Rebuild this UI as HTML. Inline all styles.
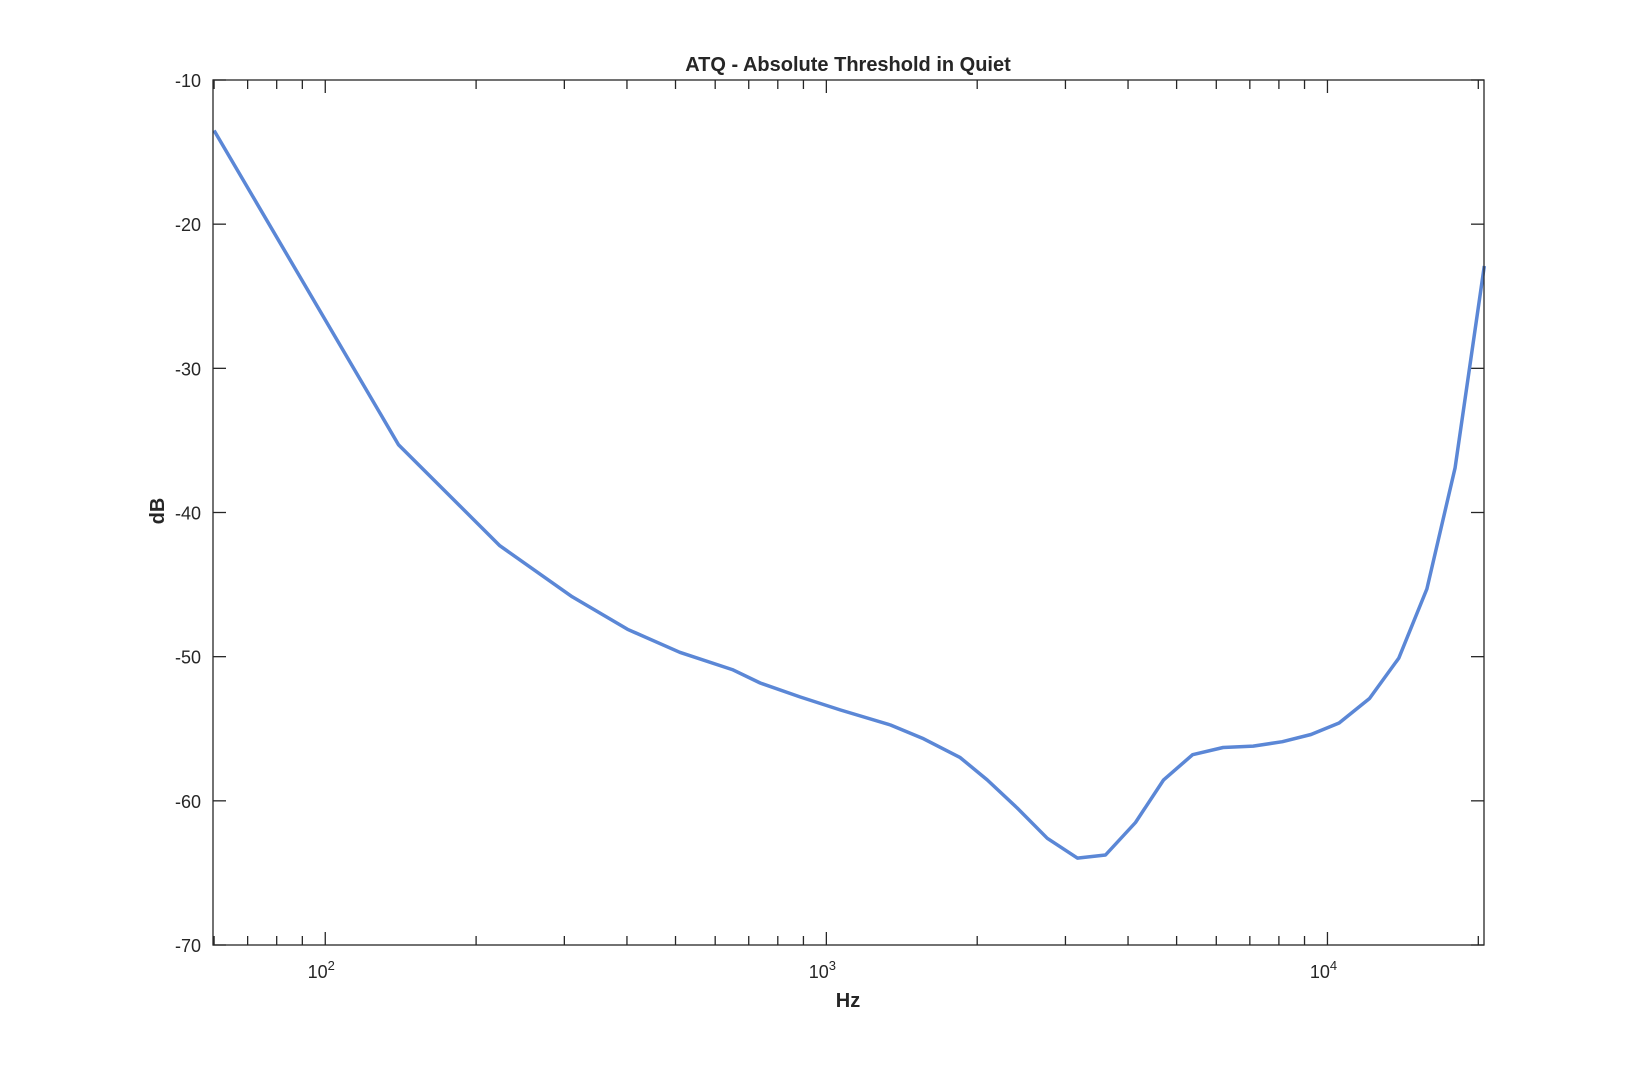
<!DOCTYPE html>
<html><head><meta charset="utf-8"><style>
html,body{margin:0;padding:0;background:#fff;}
svg text{font-family:"Liberation Sans",sans-serif;fill:#262626;}
</style></head><body>
<svg id="chart" width="1640" height="1062" viewBox="0 0 1640 1062" xmlns="http://www.w3.org/2000/svg">
<rect width="1640" height="1062" fill="#fff"/>
<text x="848" y="71" text-anchor="middle" font-size="20" font-weight="bold" fill="#000">ATQ - Absolute Threshold in Quiet</text>
<text x="848" y="1007" text-anchor="middle" font-size="20" font-weight="bold">Hz</text>
<text transform="translate(164,511) rotate(-90)" text-anchor="middle" font-size="20" font-weight="bold">dB</text>
<g id="axes"></g>
<g id="series"></g>
<rect x="213" y="80" width="1271" height="865" fill="none" stroke="#262626" stroke-width="1.3"/>
</svg>
<script>
const freqs = [60,140,223,311,401,510,649,738,887,1067,1343,1563,1850,2094,2403,2760,3170,3606,4140,4710,5380,6190,7110,8130,9270,10550,12130,13880,15790,17980,20560];
const dbValues = [-13.5,-35.3,-42.3,-45.85,-48.1,-49.7,-50.9,-51.83,-52.8,-53.7,-54.74,-55.7,-57.0,-58.55,-60.5,-62.6,-63.97,-63.76,-61.5,-58.55,-56.8,-56.3,-56.2,-55.9,-55.4,-54.6,-52.9,-50.1,-45.3,-36.9,-22.9];
const yTicks = [-70,-60,-50,-40,-30,-20,-10];
const xDecades = [2,3,4];

const L=213,R=1484,T=80,B=945;
const LOGMIN=Math.log10(59.7), LOGMAX=4.3124;
function xs(f){return L+(Math.log10(f)-LOGMIN)/(LOGMAX-LOGMIN)*(R-L);}
function ys(v){return B-(v-(-70))/60*(B-T);}
const NS="http://www.w3.org/2000/svg";
const axes=document.getElementById('axes');
function mk(tag,attrs,parent){const e=document.createElementNS(NS,tag);for(const k in attrs)e.setAttribute(k,attrs[k]);parent.appendChild(e);return e;}

yTicks.forEach(v=>{
  const y=ys(v);
  const t=mk('line',{x1:L,x2:L+13,y1:y,y2:y,stroke:'#262626','stroke-width':1.3},axes);
  
  
  const t2=mk('line',{x1:R-13,x2:R,y1:y,y2:y,stroke:'#262626','stroke-width':1.3},axes);
  
  
  const lb=mk('text',{x:L-12,y:y+7,'text-anchor':'end','font-size':18},axes);
  lb.textContent=v;
  
  
});
for(let d=1;d<=4;d++){
  for(let m=1;m<=9;m++){
    const f=m*Math.pow(10,d);
    const lf=Math.log10(f);
    if(lf<LOGMIN||lf>LOGMAX)continue;
    const x=xs(f);
    const len=(m===1)?13:9;
    const a=mk('line',{x1:x,x2:x,y1:B,y2:B-len,stroke:'#262626','stroke-width':1.3},axes);
    
    
    const b=mk('line',{x1:x,x2:x,y1:T,y2:T+len,stroke:'#262626','stroke-width':1.3},axes);
    
    
  }
}
xDecades.forEach(d=>{
  const x=xs(Math.pow(10,d));
  const lb=mk('text',{x:x-4,y:978,'text-anchor':'middle','font-size':18},axes);
  
  
  lb.textContent='10';
  const sp=mk('tspan',{dy:-8,'font-size':13},lb);
  sp.textContent=d;
});
const pts=freqs.map((f,i)=>xs(f).toFixed(1)+','+ys(dbValues[i]).toFixed(1)).join(' ');
const line=mk('polyline',{points:pts,fill:'none',stroke:'#5b87d6','stroke-width':3.5,'stroke-linejoin':'round'},document.getElementById('series'));


</script>
</body></html>
